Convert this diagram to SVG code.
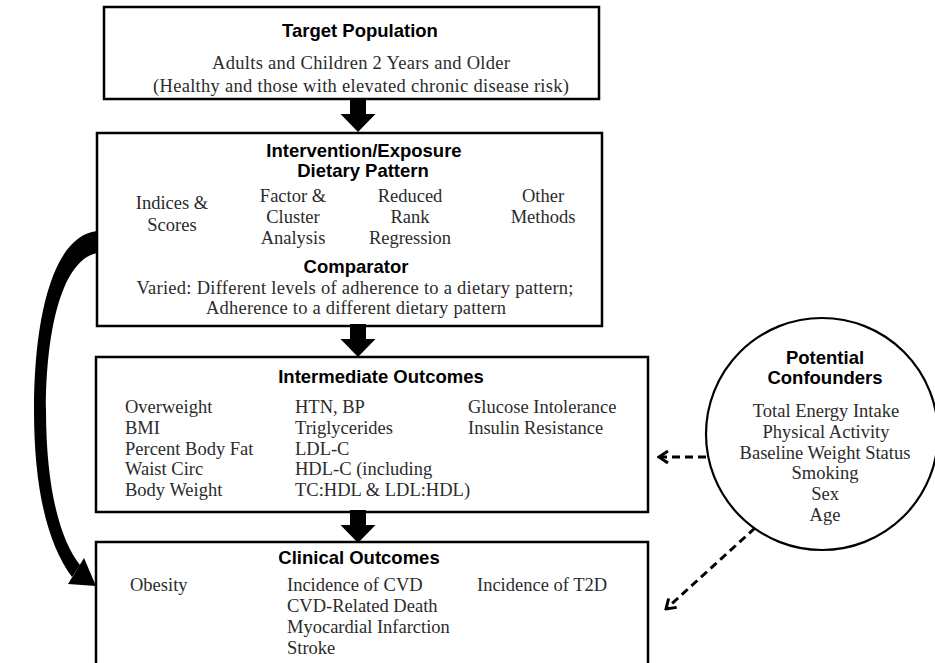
<svg xmlns="http://www.w3.org/2000/svg" xmlns:xlink="http://www.w3.org/1999/xlink" width="935" height="663" viewBox="0 0 935 663">
<style>
.box{fill:#fff;stroke:#000;stroke-width:2.5}
.h{font-family:"Liberation Sans",Arial,sans-serif;font-weight:bold;font-size:18.5px;fill:#000;text-anchor:middle}
.t{font-family:"Liberation Serif","Times New Roman",serif;font-size:18.5px;fill:#2b2b2b}
.c{text-anchor:middle}
.dash{fill:none;stroke:#000;stroke-width:3;stroke-dasharray:8 5}
.blk{fill:#000;stroke:none}
</style>
<defs>
<path id="barrow" d="M -8 0 H 8 V 15 H 17.5 L 0 33 L -17.5 15 H -8 Z"/>
<marker id="chev" markerUnits="userSpaceOnUse" viewBox="-2 -8 14 16" refX="10" refY="0" markerWidth="14" markerHeight="16" orient="auto">
<path d="M 1 -6 L 10 0 L 1 6" fill="none" stroke="#000" stroke-width="3"/>
</marker>
</defs>
<rect width="935" height="663" fill="#fff"/>

<g id="target-population">
<rect class="box" x="104" y="7" width="495" height="92"/>
<text class="h" x="360" y="37">Target Population</text>
<text class="t c" x="361" y="69" textLength="298" lengthAdjust="spacing">Adults and Children 2 Years and Older</text>
<text class="t c" x="361" y="92" textLength="416" lengthAdjust="spacing">(Healthy and those with elevated chronic disease risk)</text>
</g>

<g id="intervention-exposure">
<rect class="box" x="97" y="133" width="505" height="193"/>
<text class="h" x="364" y="157">Intervention/Exposure</text>
<text class="h" x="363" y="177">Dietary Pattern</text>
<text class="t c" x="172" y="209">Indices &amp;</text>
<text class="t c" x="172" y="231">Scores</text>
<text class="t c" x="293" y="202">Factor &amp;</text>
<text class="t c" x="293" y="223">Cluster</text>
<text class="t c" x="293" y="244">Analysis</text>
<text class="t c" x="410" y="202">Reduced</text>
<text class="t c" x="410" y="223">Rank</text>
<text class="t c" x="410" y="244">Regression</text>
<text class="t c" x="543" y="202">Other</text>
<text class="t c" x="543" y="223">Methods</text>
<text class="h" x="356" y="273">Comparator</text>
<text class="t c" x="355" y="294" textLength="437" lengthAdjust="spacing">Varied: Different levels of adherence to a dietary pattern;</text>
<text class="t c" x="356" y="314" textLength="300" lengthAdjust="spacing">Adherence to a different dietary pattern</text>
</g>

<g id="intermediate-outcomes">
<rect class="box" x="96" y="357" width="552" height="155"/>
<text class="h" x="381" y="383">Intermediate Outcomes</text>
<text class="t" x="125" y="413">Overweight</text>
<text class="t" x="125" y="434">BMI</text>
<text class="t" x="125" y="455">Percent Body Fat</text>
<text class="t" x="125" y="475">Waist Circ</text>
<text class="t" x="125" y="496">Body Weight</text>
<text class="t" x="295" y="413">HTN, BP</text>
<text class="t" x="295" y="434">Triglycerides</text>
<text class="t" x="295" y="455">LDL-C</text>
<text class="t" x="295" y="475">HDL-C (including</text>
<text class="t" x="295" y="496">TC:HDL &amp; LDL:HDL)</text>
<text class="t" x="468" y="413">Glucose Intolerance</text>
<text class="t" x="468" y="434">Insulin Resistance</text>
</g>

<g id="clinical-outcomes">
<rect class="box" x="96" y="542" width="552" height="140"/>
<text class="h" x="359" y="564">Clinical Outcomes</text>
<text class="t" x="130" y="591">Obesity</text>
<text class="t" x="287" y="591">Incidence of CVD</text>
<text class="t" x="287" y="612">CVD-Related Death</text>
<text class="t" x="287" y="633">Myocardial Infarction</text>
<text class="t" x="287" y="654">Stroke</text>
<text class="t" x="477" y="591">Incidence of T2D</text>
</g>

<g id="potential-confounders">
<circle cx="822" cy="434" r="116" fill="#fff" stroke="#000" stroke-width="2.2"/>
<text class="h" x="825" y="364">Potential</text>
<text class="h" x="825" y="384">Confounders</text>
<text class="t c" x="826" y="417">Total Energy Intake</text>
<text class="t c" x="826" y="438">Physical Activity</text>
<text class="t c" x="825" y="459">Baseline Weight Status</text>
<text class="t c" x="825" y="479">Smoking</text>
<text class="t c" x="825" y="500">Sex</text>
<text class="t c" x="825" y="521">Age</text>
</g>

<g id="connectors">
<use xlink:href="#barrow" class="blk" x="358" y="99"/>
<use xlink:href="#barrow" class="blk" x="358" y="324"/>
<use xlink:href="#barrow" class="blk" x="358" y="510"/>
<path class="blk" d="M 97 231 C 52 236, 34 320, 34 410 C 34 490, 48 545, 72 577 L 80 565 C 60 540, 46 488, 46 410 C 46 330, 62 260, 97 253 Z"/>
<path class="blk" d="M 96 586 L 68 584 L 84 558 Z"/>
<path class="dash" d="M 706 457 L 659 457" marker-end="url(#chev)"/>
<path class="dash" d="M 755 528 L 666 609" marker-end="url(#chev)"/>
</g>
</svg>
